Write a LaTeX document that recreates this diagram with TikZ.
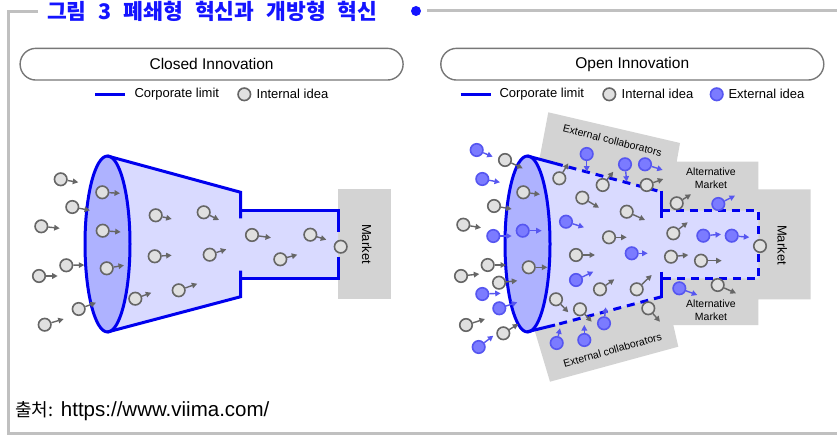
\documentclass[tikz,border=0pt]{standalone}
\usepackage{fontspec}
\setmainfont{Liberation Sans}
\newfontfamily\kr{Noto Sans CJK KR}
\usetikzlibrary{arrows.meta}
\definecolor{cblue}{HTML}{0000EE}
\definecolor{titleblue}{HTML}{1414FF}
\definecolor{funnelfill}{HTML}{D9DAFF}
\definecolor{ellfill}{HTML}{AEB2FF}
\definecolor{ggray}{HTML}{D3D3D3}
\definecolor{framegray}{HTML}{C0C0C0}
\definecolor{pillgray}{HTML}{777777}
\definecolor{ideaG}{HTML}{E0E0E0}
\definecolor{ideaGd}{HTML}{666666}
\definecolor{ideaB}{HTML}{7B7BFF}
\definecolor{ideaBd}{HTML}{5656F0}
\tikzset{
 frameline/.style={draw=framegray, line width=3pt},
 limit/.style={draw=cblue, line width=3pt, line join=miter},
 limitdash/.style={limit, dash pattern=on 8pt off 6pt},
 gidea/.style={circle, draw=ideaGd, fill=ideaG, line width=1.6pt, minimum size=12.5pt, inner sep=0pt},
 bidea/.style={circle, draw=ideaBd, fill=ideaB, line width=1.6pt, minimum size=12.5pt, inner sep=0pt},
 garrow/.style={draw=ideaGd, line width=1.4pt, -{Triangle[length=5.5pt,width=5.5pt]}},
 barrow/.style={draw=ideaBd, line width=1.4pt, -{Triangle[length=5.5pt,width=5.5pt]}},
 pill/.style={draw=pillgray, line width=1.4pt, rounded corners=15.8pt, minimum width=383pt, minimum height=31.7pt, inner sep=0pt, font=\fontsize{15.5}{18}\selectfont},
 legtext/.style={anchor=west, inner sep=0pt, font=\fontsize{13}{15}\selectfont},
 smalltext/.style={inner sep=0pt, font=\fontsize{10.5}{12.5}\selectfont, align=center},
 markettext/.style={inner sep=0pt, font=\fontsize{13}{15}\selectfont, rotate=-90},
}
\newcommand{\gI}[3]{\node[gidea] (#1) at (#2) {}; \coordinate (#1t) at (#3); \draw[garrow] (#1) -- (#1t);}
\newcommand{\bI}[3]{\node[bidea] (#1) at (#2) {}; \coordinate (#1t) at (#3); \draw[barrow] (#1) -- (#1t);}
\begin{document}
\begin{tikzpicture}[x=1pt,y=-1pt]
\useasboundingbox (0,0) rectangle (837,438);
% frame
\draw[frameline] (38,12) -- (8.5,12) -- (8.5,433) -- (837,433);
\draw[frameline] (427,11) -- (837,11);
\fill[titleblue] (416,11) circle (5);
\node[anchor=west, inner sep=0pt, text=titleblue, font={\kr\bfseries\fontsize{21.5}{23}\selectfont\spaceskip=12pt}] (title) at (47,11) {그림 3 폐쇄형 혁신과 개방형 혁신};
\node[anchor=west, inner sep=0pt, font=\fontsize{20.5}{23}\selectfont] (src) at (15,411) {{\kr\fontsize{18}{22}\selectfont 출처:} https://www.viima.com/};

% ===== Closed innovation =====
\node[pill] (pc) at (211.6,64.2) {Closed Innovation};
\coordinate (lc1) at (95,94.3); \coordinate (lc2) at (125,94.3);
\draw[limit] (lc1) -- (lc2);
\node[legtext] (lct) at (134.3,94.3) {Corporate limit};
\node[gidea] (lcg) at (244.3,94.3) {};
\node[legtext] (lcgt) at (256.5,94.3) {Internal idea};

\fill[ggray] (338,189) rectangle (390.7,298.7);
\node[markettext] (mk1) at (366.7,244) {Market};
\fill[funnelfill] (107.5,156) -- (240.7,192.3) -- (240.7,210.7) -- (338,210.7) -- (338,278) -- (240.7,278) -- (240.7,296.7) -- (107.5,332) -- cycle;
\draw[limit, fill=ellfill] (107.5,244) ellipse [x radius=22.5, y radius=88];
\draw[limit] (107.5,156) -- (240.7,192.3) -- (240.7,218.3);
\draw[limit] (240.7,210.7) -- (338,210.7) -- (338,232.3);
\draw[limit] (338,256.7) -- (338,278) -- (240.7,278);
\draw[limit] (240.7,270.7) -- (240.7,296.7) -- (107.5,332);

\gI{c1}{60.7,179.3}{78.3,182.3}
\gI{c2}{102.3,192.3}{120,193.3}
\gI{c3}{72.3,207}{90,210.3}
\gI{c4}{41.3,226.3}{59.7,228.3}
\gI{c5}{102.7,230.7}{120.7,232}
\gI{c6}{155.7,215.3}{171.7,219}
\gI{c7}{203.7,212.3}{219,220}
\gI{c8}{252,235}{271,237.7}
\gI{c9}{310.3,234.7}{326.3,239.7}
\node[gidea] (c10) at (340.7,246.7) {};
\gI{c11}{154.7,256.3}{171.7,255.3}
\gI{c12}{209.7,254.7}{226.3,249.3}
\gI{c13}{66.3,265.3}{84.3,265}
\gI{c14}{39,276}{57.7,276}
\gI{c15}{106.7,268.3}{124,265.3}
\gI{c16}{280.3,259.3}{297.3,254.7}
\gI{c17}{178.7,290.3}{197.3,283.7}
\gI{c18}{135.3,298.7}{151.3,292.7}
\gI{c19}{78.7,309}{96,302.7}
\gI{c20}{44.7,324.7}{63.7,319}

% ===== Open innovation =====
\node[pill] (po) at (632.3,64.2) {Open Innovation};
\coordinate (lo1) at (460.7,94.3); \coordinate (lo2) at (490.7,94.3);
\draw[limit] (lo1) -- (lo2);
\node[legtext] (lot) at (499.3,94.3) {Corporate limit};
\node[gidea] (log) at (609.3,94.3) {};
\node[legtext] (logt) at (621.5,94.3) {Internal idea};
\node[bidea] (lob) at (716.7,94.3) {};
\node[legtext] (lobt) at (728.3,94.3) {External idea};

\fill[ggray] (548.3,112.3) -- (680,143) -- (676.7,161.7) -- (758.3,161.7) -- (758.3,189.3) -- (810.7,189.3) -- (810.7,299.3) -- (758.3,299.3) -- (758.3,325) -- (673.3,325) -- (678.3,346.7) -- (550,381.7) -- (535,331.7) -- (520,250) -- (530,180) -- (540,156) -- cycle;
\node[smalltext, rotate=-14] (ec1) at (612.5,140.5) {External collaborators};
\node[smalltext, rotate=16] (ec2) at (612.5,350) {External collaborators};
\node[smalltext] (am1) at (711,178) {Alternative\\Market};
\node[smalltext] (am2) at (711,310) {Alternative\\Market};
\node[markettext] (mk2) at (782.3,245) {Market};

\fill[funnelfill] (527.5,156) -- (661.7,192) -- (661.7,210.7) -- (758.3,210.7) -- (758.3,278.3) -- (661.7,278.3) -- (661.7,296.7) -- (527.5,331.7) -- cycle;
\draw[limit, fill=ellfill] (527.5,244) ellipse [x radius=22.5, y radius=88];
\draw[limit] (527.5,156) -- (555,163.4);
\draw[limitdash] (555,163.4) -- (661.7,192);
\draw[limit] (661.7,190.7) -- (661.7,218.3);
\draw[limitdash] (661.7,210.7) -- (758.3,210.7) -- (758.3,278.3) -- (661.7,278.3);
\draw[limit] (661.7,271.7) -- (661.7,298);
\draw[limitdash] (661.7,296.7) -- (555,325);
\draw[limit] (555,325) -- (527.5,331.7);

\bI{o1}{476.7,150}{492.7,156.7}
\gI{o2}{505,160}{522.7,168.3}
\bI{o3}{482.3,179}{500,182.3}
\gI{o4}{523.3,192.3}{540,194.3}
\gI{o5}{494,206}{511.7,209}
\gI{o6}{463.3,224.7}{481,227.7}
\bI{o7}{493.3,236}{511.7,236}
\bI{o8}{522.7,230.7}{541.7,230.7}
\gI{o9}{487.7,265}{506,265}
\gI{o10}{461,276}{479.3,274}
\gI{o11}{528.7,267.3}{547.3,267.3}
\gI{o12}{499,282.7}{517.3,280.7}
\bI{o13}{482.3,294}{500.7,293.3}
\bI{o14}{499.3,308.3}{517.3,302.3}
\gI{o15}{466,325}{485,319}
\gI{o16}{503.3,333.3}{518.3,324}
\bI{o17}{478.7,347}{493.3,335.7}
\gI{o18}{559.3,178.3}{568.3,163.3}
\bI{o19}{586.7,154}{586.7,171.7}
\gI{o20}{602.7,185}{613.3,171.7}
\bI{o21}{625,164.3}{626.7,181.7}
\bI{o22}{645,164.3}{662.7,170}
\gI{o23}{646.7,185}{663.3,179}
\gI{o24}{582.3,197.7}{599,207.7}
\gI{o25}{626.7,211.7}{645,220}
\bI{o26}{566,221.7}{584,227.3}
\gI{o27}{609,237.3}{626.7,237.3}
\gI{o28}{576,255}{595,255}
\bI{o29}{631.7,253.3}{647.7,253.3}
\bI{o30}{576,280}{593.3,271.7}
\gI{o31}{600,289.3}{614.3,279.3}
\gI{o32}{636.7,289.3}{651.7,275}
\gI{o33}{556,299.3}{568.3,312.3}
\gI{o34}{580,309.3}{591.7,321.7}
\bI{o35}{604,323.3}{605.7,307.3}
\gI{o36}{648.3,308.3}{660,321.7}
\bI{o37}{556.7,343}{560,328.3}
\bI{o38}{584.3,340}{584.3,325}
\gI{o39}{676.7,203.3}{691,194.3}
\bI{o40}{718.3,204}{735,195.7}
\gI{o41}{673.3,233.3}{687.7,222.3}
\bI{o42}{703.3,235.7}{721,234.3}
\bI{o43}{731.7,235.7}{749.3,237.3}
\node[gidea] (o44) at (760,246) {};
\gI{o45}{671,256.7}{688.3,255}
\gI{o46}{701,260.7}{721.7,260.7}
\bI{o47}{679.3,288.3}{697.3,295}
\gI{o48}{717.7,285}{736,293.3}
\end{tikzpicture}
\end{document}
